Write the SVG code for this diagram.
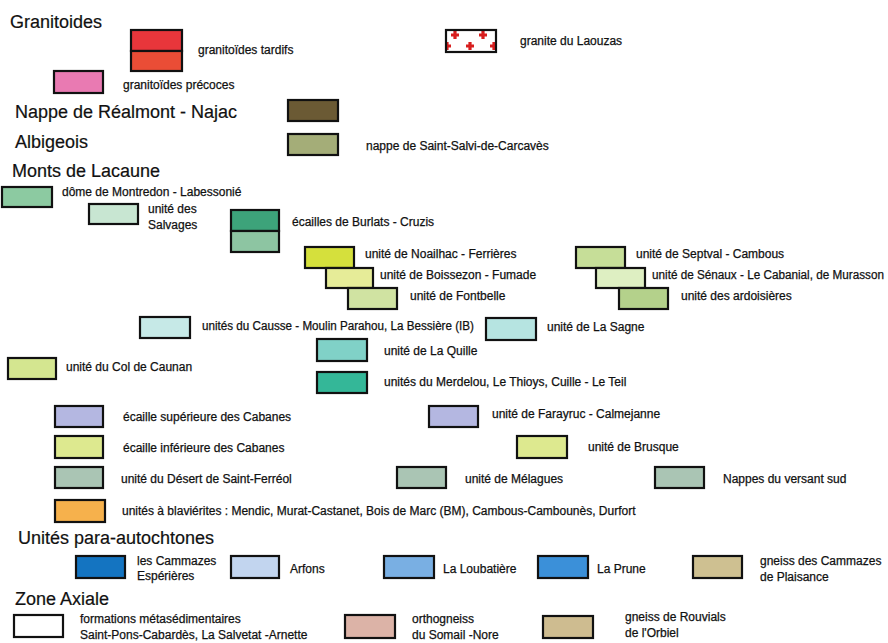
<svg xmlns="http://www.w3.org/2000/svg" width="888" height="643" viewBox="0 0 888 643">
<style>
.h{font-family:"Liberation Sans",Arial,sans-serif;font-size:18px;fill:#111;stroke:#111;stroke-width:0.2}
.t{font-family:"Liberation Sans",Arial,sans-serif;font-size:12px;fill:#111;stroke:#111;stroke-width:0.25}
.b{stroke:#111;stroke-width:2.2}
</style>
<defs>
<path id="cr" d="M-1.6,-4h3.2v2.4h2.4v3.2h-2.4v2.4h-3.2v-2.4h-2.4v-3.2h2.4z" fill="#d81e1e"/>
<clipPath id="lz"><rect x="446" y="30" width="50" height="22"/></clipPath>
</defs>
<rect width="888" height="643" fill="#fff"/>

<g id="headings">
<text class="h" x="10" y="28">Granitoides</text>
<text class="h" x="15" y="118">Nappe de Réalmont - Najac</text>
<text class="h" x="15" y="148">Albigeois</text>
<text class="h" x="12" y="177">Monts de Lacaune</text>
<text class="h" x="18" y="544">Unités para-autochtones</text>
<text class="h" x="15" y="605">Zone Axiale</text>
</g>

<g id="granitoides-tardifs">
<rect class="b" x="131" y="30" width="51" height="21" fill="#e8363b"/>
<rect class="b" x="131" y="51" width="51" height="20" fill="#ea4d36"/>
<text class="t" x="198" y="54">granitoïdes tardifs</text>
</g>
<g id="granitoides-precoces">
<rect class="b" x="54" y="71" width="49" height="22" fill="#e97ab2"/>
<text class="t" x="123" y="89">granitoïdes précoces</text>
</g>
<g id="granite-laouzas">
<rect x="446" y="30" width="50" height="22" fill="#fff"/>
<g clip-path="url(#lz)">
<use href="#cr" x="455" y="35"/><use href="#cr" x="483" y="35"/><use href="#cr" x="470" y="46"/><use href="#cr" x="447" y="46"/><use href="#cr" x="494" y="46"/>
</g>
<rect class="b" x="446" y="30" width="50" height="22" fill="none"/>
<text class="t" x="520" y="45">granite du Laouzas</text>
</g>
<g id="realmont">
<rect class="b" x="288" y="100" width="50" height="21" fill="#6b5a34"/>
</g>
<g id="saint-salvi">
<rect class="b" x="288" y="134" width="50" height="21" fill="#a4ad78"/>
<text class="t" x="366" y="150">nappe de Saint-Salvi-de-Carcavès</text>
</g>

<g id="montredon">
<rect class="b" x="2" y="187" width="50" height="20" fill="#8ccaa1"/>
<text class="t" x="62" y="196">dôme de Montredon - Labessonié</text>
</g>
<g id="salvages">
<rect class="b" x="89" y="204" width="49" height="20" fill="#c8e6d2"/>
<text class="t" x="148" y="213">unité des</text>
<text class="t" x="148" y="229">Salvages</text>
</g>
<g id="burlats">
<rect class="b" x="231" y="210" width="48" height="21" fill="#3da37a"/>
<rect class="b" x="231" y="231" width="48" height="21" fill="#8dc5a2"/>
<text class="t" x="292" y="226">écailles de Burlats - Cruzis</text>
</g>
<g id="noailhac">
<rect class="b" x="305" y="247" width="49" height="21" fill="#d5e03c"/>
<text class="t" x="365" y="258">unité de Noailhac - Ferrières</text>
</g>
<g id="boissezon">
<rect class="b" x="326" y="268" width="47" height="20" fill="#e6ec98"/>
<text class="t" x="380" y="279">unité de Boissezon - Fumade</text>
</g>
<g id="fontbelle">
<rect class="b" x="348" y="288" width="49" height="21" fill="#d0e3a2"/>
<text class="t" x="410" y="300">unité de Fontbelle</text>
</g>
<g id="septval">
<rect class="b" x="576" y="247" width="49" height="21" fill="#c6de98"/>
<text class="t" x="636" y="258">unité de Septval - Cambous</text>
</g>
<g id="senaux">
<rect class="b" x="596" y="268" width="49" height="20" fill="#deefc2"/>
<text class="t" x="652" y="279" textLength="232" lengthAdjust="spacingAndGlyphs">unité de Sénaux - Le Cabanial, de Murasson</text>
</g>
<g id="ardoisieres">
<rect class="b" x="619" y="288" width="49" height="21" fill="#b4d18b"/>
<text class="t" x="681" y="300">unité des ardoisières</text>
</g>

<g id="causse">
<rect class="b" x="140" y="317" width="50" height="21" fill="#c6e9e7"/>
<text class="t" x="202" y="330" textLength="272" lengthAdjust="spacingAndGlyphs">unités du Causse - Moulin Parahou, La Bessière (IB)</text>
</g>
<g id="sagne">
<rect class="b" x="486" y="318" width="50" height="22" fill="#b6e4e1"/>
<text class="t" x="547" y="331">unité de La Sagne</text>
</g>
<g id="quille">
<rect class="b" x="317" y="339" width="50" height="22" fill="#80d1c7"/>
<text class="t" x="384" y="355">unité de La Quille</text>
</g>
<g id="caunan">
<rect class="b" x="8" y="358" width="48" height="21" fill="#d4e690"/>
<text class="t" x="66" y="371">unité du Col de Caunan</text>
</g>
<g id="merdelou">
<rect class="b" x="317" y="372" width="50" height="21" fill="#34b798"/>
<text class="t" x="384" y="386">unités du Merdelou,  Le Thioys, Cuille - Le Teil</text>
</g>
<g id="ecaille-sup">
<rect class="b" x="55" y="406" width="48" height="21" fill="#b4b7e1"/>
<text class="t" x="123" y="421">écaille supérieure des Cabanes</text>
</g>
<g id="farayruc">
<rect class="b" x="429" y="406" width="49" height="21" fill="#b4b7e1"/>
<text class="t" x="492" y="418">unité de Farayruc - Calmejanne</text>
</g>
<g id="ecaille-inf">
<rect class="b" x="55" y="436" width="48" height="22" fill="#dde98f"/>
<text class="t" x="123" y="452">écaille inférieure des Cabanes</text>
</g>
<g id="brusque">
<rect class="b" x="517" y="436" width="50" height="22" fill="#dde98f"/>
<text class="t" x="588" y="451">unité de Brusque</text>
</g>
<g id="desert">
<rect class="b" x="55" y="467" width="48" height="21" fill="#aac5b4"/>
<text class="t" x="121" y="483">unité du Désert de Saint-Ferréol</text>
</g>
<g id="melagues">
<rect class="b" x="397" y="467" width="49" height="21" fill="#aac5b4"/>
<text class="t" x="465" y="483">unité de Mélagues</text>
</g>
<g id="versant-sud">
<rect class="b" x="655" y="467" width="49" height="21" fill="#aac5b4"/>
<text class="t" x="723" y="483">Nappes du versant sud</text>
</g>
<g id="blavierites">
<rect class="b" x="55" y="500" width="50" height="22" fill="#f6b14c"/>
<text class="t" x="122" y="515">unités à blaviérites : Mendic, Murat-Castanet, Bois de Marc (BM), Cambous-Cambounès, Durfort</text>
</g>

<g id="cammazes">
<rect class="b" x="76" y="556" width="49" height="22" fill="#1474c1"/>
<text class="t" x="137" y="565">les Cammazes</text>
<text class="t" x="137" y="580">Espérières</text>
</g>
<g id="arfons">
<rect class="b" x="231" y="556" width="48" height="22" fill="#c2d5ef"/>
<text class="t" x="290" y="573">Arfons</text>
</g>
<g id="loubatiere">
<rect class="b" x="384" y="556" width="50" height="22" fill="#79afe3"/>
<text class="t" x="443" y="573">La Loubatière</text>
</g>
<g id="prune">
<rect class="b" x="538" y="556" width="50" height="22" fill="#3b90d9"/>
<text class="t" x="597" y="573">La Prune</text>
</g>
<g id="gneiss-cammazes">
<rect class="b" x="693" y="556" width="49" height="22" fill="#cec091"/>
<text class="t" x="760" y="565">gneiss des Cammazes</text>
<text class="t" x="760" y="581">de Plaisance</text>
</g>

<g id="metasedimentaires">
<rect class="b" x="14" y="615" width="49" height="22" fill="#fff"/>
<text class="t" x="80" y="623">formations métasédimentaires</text>
<text class="t" x="80" y="639">Saint-Pons-Cabardès, La Salvetat -Arnette</text>
</g>
<g id="orthogneiss">
<rect class="b" x="345" y="615" width="50" height="23" fill="#dcb3a7"/>
<text class="t" x="412" y="623">orthogneiss</text>
<text class="t" x="412" y="639">du Somail -Nore</text>
</g>
<g id="rouvials">
<rect class="b" x="543" y="616" width="50" height="22" fill="#cebc90"/>
<text class="t" x="625" y="621">gneiss de Rouvials</text>
<text class="t" x="625" y="637">de l'Orbiel</text>
</g>
<g id="connectors"></g>
</svg>
